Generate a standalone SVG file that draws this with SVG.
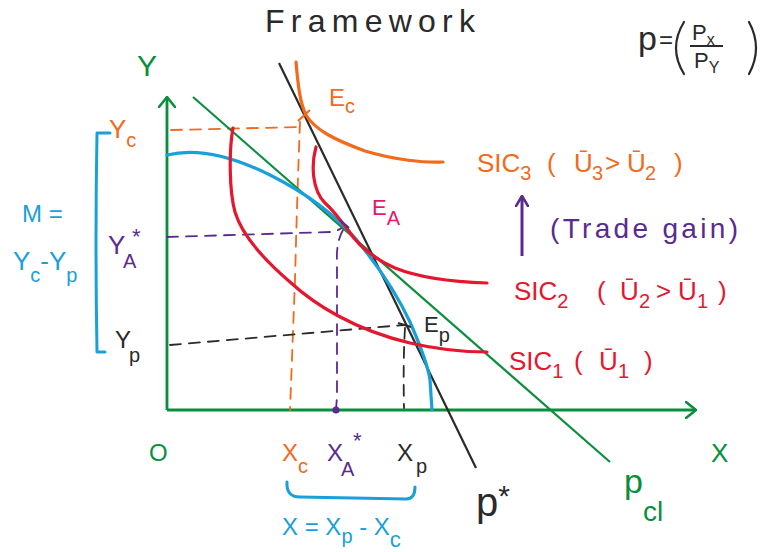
<svg xmlns="http://www.w3.org/2000/svg" width="778" height="552" viewBox="0 0 778 552">
<defs>
<marker id="arrG" viewBox="0 0 12 18" refX="11" refY="9" markerWidth="12" markerHeight="18" markerUnits="userSpaceOnUse" orient="auto">
<path d="M1,1 L11,9 L1,17" fill="none" stroke="#0b8e3c" stroke-width="2.6" stroke-linecap="round" stroke-linejoin="round"/>
</marker>
<marker id="arrP" viewBox="0 0 12 14" refX="11" refY="7" markerWidth="12" markerHeight="14" markerUnits="userSpaceOnUse" orient="auto">
<path d="M1,1 L11,7 L1,13" fill="none" stroke="#5a2a90" stroke-width="2.6" stroke-linecap="round" stroke-linejoin="round"/>
</marker>
</defs>
<style>
text{font-family:"Liberation Sans","DejaVu Sans",sans-serif;}
.g{fill:#0b8e3c}.o{fill:#f26a1b}.r{fill:#e5172f}.b{fill:#1aa0d8}.p{fill:#5a2a90}.k{fill:#2a2a2a}.m{fill:#e8186a}
.crv{fill:none;stroke-width:3.2;stroke-linecap:round;stroke-linejoin:round}
.dash{fill:none;stroke-width:1.8;stroke-dasharray:11 8;stroke-linecap:round}
.s{font-size:20px}
</style>
<rect width="778" height="552" fill="#ffffff"/>

<g id="axes">
<path d="M167,410 L167,97" stroke="#0b8e3c" stroke-width="2.8" fill="none" marker-end="url(#arrG)"/>
<path d="M167,410 L696,410" stroke="#0b8e3c" stroke-width="2.8" fill="none" marker-end="url(#arrG)"/>
<text class="g" x="137" y="76" font-size="30">Y</text>
<text class="g" x="711" y="462" font-size="26">X</text>
<text class="g" x="149" y="461" font-size="24">O</text>
</g>

<g id="connectors">
<path class="dash" stroke="#f26a1b" d="M171,130 L300,127"/>
<path class="dash" stroke="#f26a1b" d="M300,122 Q297,200 295,280 L290,410"/>
<path class="dash" stroke="#5a2a90" d="M167,237 L330,232 Q340,231 345,225"/>
<path class="dash" stroke="#5a2a90" d="M343,230 Q336,242 337,262 L337,396 L336,410"/>
<circle cx="336" cy="410" r="3.6" fill="#5a2a90"/>
<path class="dash" stroke="#2a2a2a" d="M170,345 L404,325"/>
<path class="dash" stroke="#2a2a2a" d="M405,328 Q403,360 404,408"/>
</g>

<g id="budget-lines">
<path d="M193,97 L610,462" stroke="#0b8e3c" stroke-width="2.2" fill="none"/>
<path d="M279,63 L476,468" stroke="#2a2a2a" stroke-width="2.2" fill="none"/>
</g>

<g id="ppf">
<path class="crv" stroke="#1aa0d8" d="M167,155 C195,148 230,155 270,175 C310,195 335,215 355,238 C375,262 395,290 410,322 C420,345 428,365 430,380 L432,410"/>
</g>

<g id="sic1">
<path class="crv" stroke="#e5172f" d="M233,128 C229,150 229,190 235,212 C242,235 262,258 290,282 C315,305 355,330 410,343 C440,350 465,352 487,352"/>
</g>
<g id="sic2">
<path class="crv" stroke="#e5172f" d="M316,147 C311,165 312,190 325,203 C335,212 340,220 348,230 C358,245 372,258 395,268 C420,278 455,282 487,283"/>
</g>
<g id="sic3">
<path class="crv" stroke="#f26a1b" d="M296,62 C298,85 300,103 306,115 C315,130 335,140 365,151 C395,160 425,163 443,162"/>
</g>

<g id="points">
<path d="M298,121 L310,110" stroke="#f26a1b" stroke-width="2.2" fill="none"/>
<path d="M340,220 L349,228" stroke="#5a2a90" stroke-width="2.2" fill="none"/>
<path d="M398,323 L411,327" stroke="#2a2a2a" stroke-width="2" fill="none"/>
<text class="o" x="329" y="106" font-size="24">E<tspan class="s" dy="7">c</tspan></text>
<text class="m" x="372" y="215" font-size="22">E<tspan class="s" dy="10">A</tspan></text>
<text class="k" x="424" y="332" font-size="22">E<tspan class="s" dy="10">p</tspan></text>
</g>

<g id="title">
<text class="k" x="265" y="32" font-size="32" textLength="210" lengthAdjust="spacing">Framework</text>
</g>

<g id="price">
<text class="k" x="638" y="50" font-size="34">p</text>
<text class="k" x="659" y="48" font-size="24">=</text>
<path d="M684,22 Q668,48 684,74" stroke="#2a2a2a" stroke-width="2.2" fill="none" stroke-linecap="round"/>
<text class="k" x="692" y="40" font-size="22">P<tspan font-size="16" dy="5">x</tspan></text>
<path d="M690,46 L723,46" stroke="#2a2a2a" stroke-width="2" fill="none"/>
<text class="k" x="694" y="68" font-size="22">P<tspan font-size="16" dy="5">Y</tspan></text>
<path d="M749,22 Q763,48 749,74" stroke="#2a2a2a" stroke-width="2.2" fill="none" stroke-linecap="round"/>
</g>

<g id="y-labels">
<text class="o" x="109" y="138" font-size="26">Y<tspan class="s" dy="9">c</tspan></text>
<text class="p" x="108" y="254" font-size="26">Y<tspan font-size="20" x="123" dy="14">A</tspan><tspan font-size="22" x="132" dy="-24">*</tspan></text>
<text class="k" x="115" y="348" font-size="24">Y<tspan class="s" x="129" dy="14">p</tspan></text>
<path d="M110,133 L97,133 Q95,240 97,352 L105,352" stroke="#1aa0d8" stroke-width="3" fill="none" stroke-linecap="round" stroke-linejoin="round"/>
<text class="b" x="22" y="222" font-size="24">M =</text>
<text class="b" x="13" y="270" font-size="26">Y<tspan class="s" dy="12">c</tspan><tspan dy="-12">-Y</tspan><tspan class="s" dy="12">p</tspan></text>
</g>

<g id="x-labels">
<text class="o" x="282" y="461" font-size="24">X<tspan class="s" dy="12">c</tspan></text>
<text class="p" x="327" y="461" font-size="24">X<tspan font-size="20" x="341" dy="15">A</tspan><tspan font-size="22" x="353" dy="-28">*</tspan></text>
<text class="k" x="397" y="461" font-size="24">X<tspan class="s" x="416" dy="12">p</tspan></text>
<path d="M287,482 Q286,497 300,497 L406,499 Q415,499 415,487" stroke="#1aa0d8" stroke-width="3" fill="none" stroke-linecap="round" stroke-linejoin="round"/>
<text class="b" x="282" y="535" font-size="24">X = X<tspan class="s" dy="8">p</tspan><tspan dy="-8"> - X</tspan><tspan font-size="22" dy="12">c</tspan></text>
</g>

<g id="line-labels">
<text class="k" x="476" y="516" font-size="40">p<tspan font-size="30" dy="-10">*</tspan></text>
<text class="g" x="624" y="493" font-size="34">p<tspan font-size="28" dy="28">cl</tspan></text>
</g>

<g id="sic-labels">
<text class="o" x="477" y="172" font-size="26">SIC<tspan class="s" dy="8">3</tspan><tspan dy="-8" x="547">(</tspan><tspan x="574">Ū</tspan><tspan class="s" x="592" dy="8">3</tspan><tspan dy="-8" x="605">&gt;</tspan><tspan x="627">Ū</tspan><tspan class="s" x="645" dy="8">2</tspan><tspan dy="-8" x="674">)</tspan></text>
<path d="M522,256 L522,196" stroke="#5a2a90" stroke-width="3" fill="none" marker-end="url(#arrP)"/>
<text class="p" x="550" y="238" font-size="28" textLength="188" lengthAdjust="spacing">(Trade gain)</text>
<text class="r" x="514" y="300" font-size="26">SIC<tspan class="s" dy="8">2</tspan><tspan dy="-8" x="597">(</tspan><tspan x="620">Ū</tspan><tspan class="s" x="639" dy="8">2</tspan><tspan dy="-8" x="656">&gt;</tspan><tspan x="678">Ū</tspan><tspan class="s" x="697" dy="8">1</tspan><tspan dy="-8" x="718">)</tspan></text>
<text class="r" x="509" y="370" font-size="26">SIC<tspan class="s" dy="8">1</tspan><tspan dy="-8" x="574">(</tspan><tspan x="599">Ū</tspan><tspan class="s" x="618" dy="8">1</tspan><tspan dy="-8" x="644">)</tspan></text>
</g>
</svg>
